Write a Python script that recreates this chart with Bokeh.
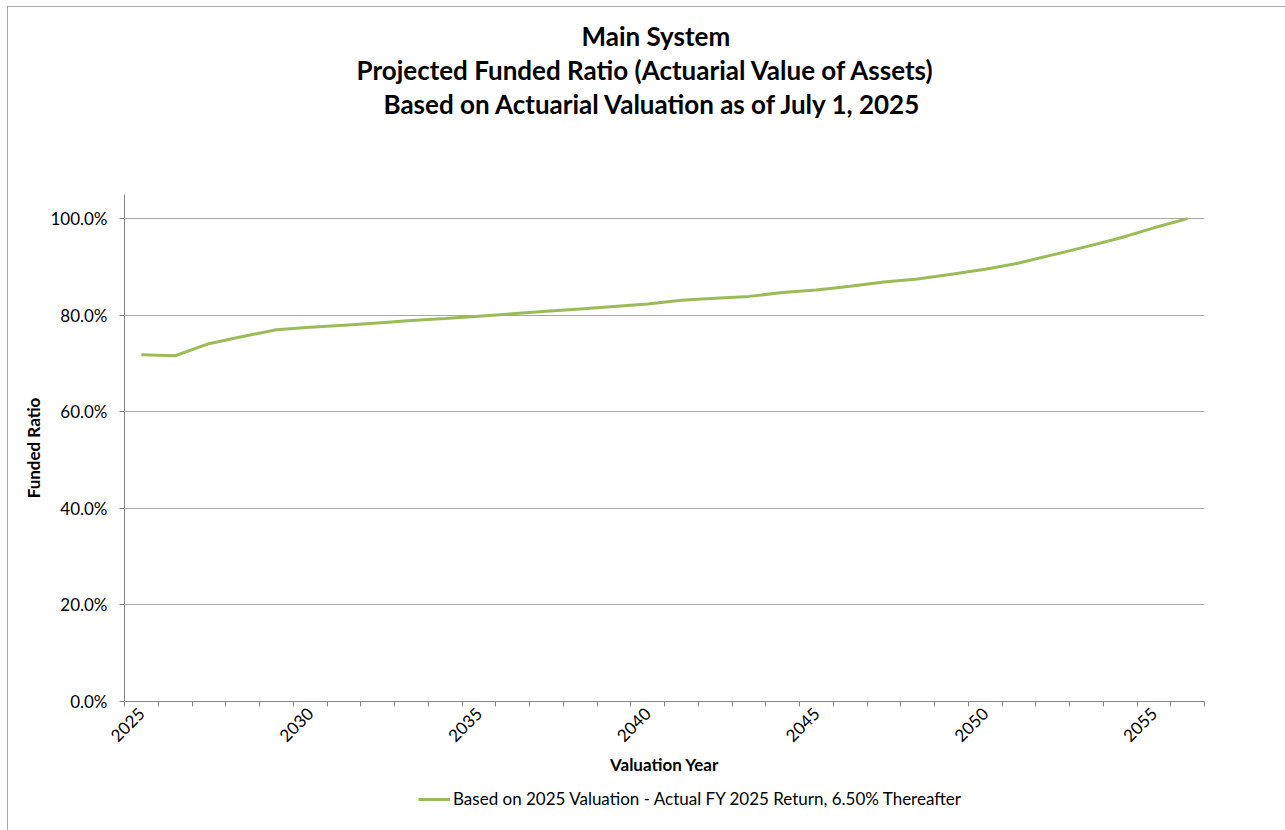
from math import pi
from bokeh.plotting import figure
from bokeh.layouts import column
from bokeh.models import Range1d, FixedTicker, NumeralTickFormatter, Title, Legend, LegendItem
from bokeh.embed import file_html
from bokeh.resources import INLINE

# ---- data ----
years = list(range(2025, 2057))
funded_ratio = [0.718, 0.716, 0.741, 0.756, 0.770, 0.775, 0.779, 0.784, 0.789, 0.793,
                0.798, 0.803, 0.808, 0.813, 0.818, 0.823, 0.831, 0.835, 0.839, 0.847,
                0.852, 0.860, 0.869, 0.875, 0.885, 0.895, 0.908, 0.925, 0.942, 0.960,
                0.981, 1.000]
year_labels = [2025, 2030, 2035, 2040, 2045, 2050, 2055]
y_ticks = [0.0, 0.2, 0.4, 0.6, 0.8, 1.0]
series_name = "Based on 2025 Valuation - Actual FY 2025 Return, 6.50% Thereafter"
title_lines = ["Main System",
               "Projected Funded Ratio (Actuarial Value of Assets)",
               "Based on Actuarial Valuation as of July 1, 2025"]

FONT = "Lato"
AXIS_GRAY = "#868686"
LINE_GREEN = "#9BBB59"

p = figure(width=1277, height=776, output_backend="svg", toolbar_location=None,
           x_range=Range1d(years[0] - 0.5, years[-1] + 0.5), y_range=Range1d(0, 1.05),
           min_border_left=116, min_border_right=81, min_border_bottom=82, min_border_top=0,
           title=None)
p.outline_line_color = None
p.background_fill_color = "white"
p.border_fill_color = "white"

# spacer between titles and plot, then the three title lines, then a top spacer
# (first added = closest to plot)
p.add_layout(Title(text=" ", text_font_size="10px", standoff=62), "above")
title_offsets = [457, 232, 259]
for txt, off in zip(reversed(title_lines), reversed(title_offsets)):
    t = Title(text=txt, align="left", offset=off, text_font=FONT, text_font_size="26px",
              text_font_style="bold", text_color="black", standoff=0)
    p.add_layout(t, "above")
p.add_layout(Title(text=" ", text_font_size="1px", standoff=7), "above")

r = p.line(years, funded_ratio, line_color=LINE_GREEN, line_width=3)

# x axis
xa = p.xaxis[0]
xa.ticker = FixedTicker(ticks=year_labels, minor_ticks=[y - 0.5 for y in years] + [years[-1] + 0.5])
xa.major_tick_out = 0
xa.major_tick_in = 0
xa.minor_tick_out = 5
xa.minor_tick_in = 0
xa.minor_tick_line_color = AXIS_GRAY
xa.axis_line_color = AXIS_GRAY
xa.major_label_orientation = pi / 4
xa.major_label_text_font = FONT
xa.major_label_text_font_size = "17px"
xa.major_label_text_color = "black"
xa.major_label_standoff = 4
xa.axis_label = "Valuation Year"
xa.axis_label_text_font = FONT
xa.axis_label_text_font_size = "17px"
xa.axis_label_text_font_style = "bold"
xa.axis_label_text_color = "black"
xa.axis_label_standoff = 3

# y axis
ya = p.yaxis[0]
ya.ticker = FixedTicker(ticks=y_ticks)
ya.formatter = NumeralTickFormatter(format="0.0%")
ya.major_tick_out = 5
ya.major_tick_in = 0
ya.minor_tick_line_color = None
ya.axis_line_color = AXIS_GRAY
ya.major_tick_line_color = AXIS_GRAY
ya.major_label_text_font = FONT
ya.major_label_text_font_size = "17px"
ya.major_label_text_color = "black"
ya.major_label_standoff = 12
ya.axis_label = "Funded Ratio"
ya.axis_label_text_font = FONT
ya.axis_label_text_font_size = "17px"
ya.axis_label_text_font_style = "bold"
ya.axis_label_text_color = "black"
ya.axis_label_standoff = 3

p.xgrid.visible = False
p.ygrid.grid_line_color = "#a6a6a6"
p.ygrid.grid_line_width = 1

# legend strip below the chart (sample line kept outside the visible range)
lg = figure(width=1277, height=47, output_backend="svg", toolbar_location=None,
            x_range=Range1d(0, 1), y_range=Range1d(0, 1), min_border=0, title=None)
lg.axis.visible = False
lg.grid.visible = False
lg.outline_line_color = None
lg.background_fill_color = "white"
lg.border_fill_color = "white"
lr = lg.line([-2, -1], [-2, -2], line_color=LINE_GREEN, line_width=3)
legend = Legend(items=[LegendItem(label=series_name, renderers=[lr])],
                orientation="horizontal", location=(294, 21),
                border_line_color=None, background_fill_alpha=0,
                label_text_font=FONT, label_text_font_size="17px", label_text_color="black",
                glyph_width=32, glyph_height=18, padding=0, margin=0, label_standoff=3)
lg.add_layout(legend, "center")

layout = column(p, lg, spacing=0)
layout.margin = (6, 0, 0, 7)
layout.styles = {"border-top": "1px solid #a6a6a6", "border-left": "1px solid #a6a6a6"}

open("out.html", "w").write(file_html(layout, INLINE))
